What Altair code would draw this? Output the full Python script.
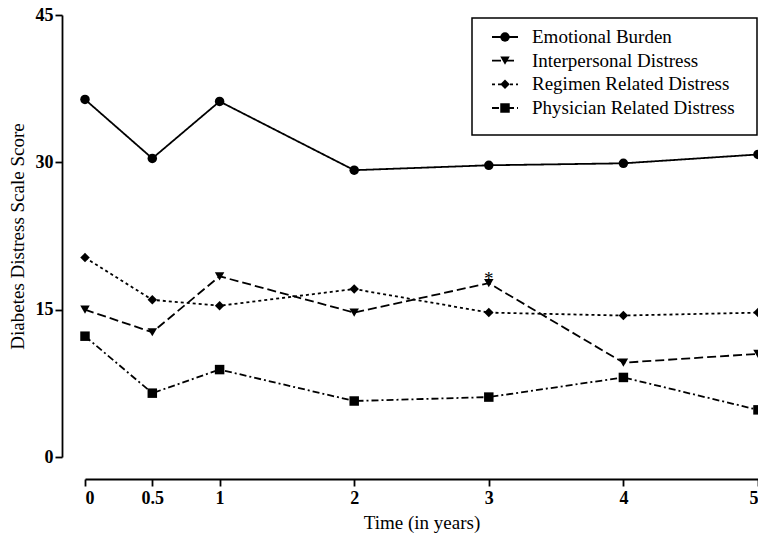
import altair as alt
import pandas as pd

times = [0, 0.5, 1, 2, 3, 4, 5]
series_names = ["Emotional Burden", "Interpersonal Distress",
                "Regimen Related Distress", "Physician Related Distress"]
emotional = [36.4, 30.4, 36.2, 29.2, 29.7, 29.9, 30.8]
interpersonal = [15.0, 12.7, 18.4, 14.7, 17.7, 9.6, 10.5]
regimen = [20.3, 16.0, 15.4, 17.1, 14.7, 14.4, 14.7]
physician = [12.3, 6.5, 8.9, 5.7, 6.1, 8.1, 4.8]
star_time = [3]
star_value = [17.7]

rows = []
for name, vals in zip(series_names, [emotional, interpersonal, regimen, physician]):
    for t, v in zip(times, vals):
        rows.append({"series": name, "time": t, "score": v})
df = pd.DataFrame(rows)
star_df = pd.DataFrame({"time": star_time, "score": star_value, "label": ["*"]})
leg_df = pd.DataFrame({"series": series_names})
box_df = pd.DataFrame({"k": [0]})

FONT = "Liberation Serif"
dashes = [[1, 0], [9, 4], [3, 3], [7, 3, 2, 3]]
shapes = ["circle", "triangle-down", "diamond", "square"]

dash_scale = alt.Scale(domain=series_names, range=dashes)
shape_scale = alt.Scale(domain=series_names, range=shapes)

x_enc = alt.X("time:Q", scale=alt.Scale(domain=[0, 5], nice=False, zero=False),
              axis=alt.Axis(values=times, format="~g", title="Time (in years)",
                            offset=22, labelPadding=3, titlePadding=6))
y_enc = alt.Y("score:Q", scale=alt.Scale(domain=[0, 45], nice=False),
              axis=alt.Axis(values=[0, 15, 30, 45], title="Diabetes Distress Scale Score",
                            offset=23, labelPadding=2, titlePadding=8))

lines = alt.Chart(df).mark_line(color="black", strokeWidth=1.8).encode(
    x=x_enc, y=y_enc,
    strokeDash=alt.StrokeDash("series:N", scale=dash_scale, legend=None),
    detail="series:N",
)

points = alt.Chart(df).mark_point(filled=True, color="black", opacity=1, size=90).encode(
    x="time:Q", y="score:Q",
    shape=alt.Shape("series:N", scale=shape_scale, legend=None),
)

star = alt.Chart(star_df).mark_text(font=FONT, fontSize=19, dy=-4, color="black").encode(
    x="time:Q", y="score:Q", text="label:N"
)

data_layer = alt.layer(lines, points, star)

# legend, rows placed by a point scale
leg_y = alt.Y("series:N", sort=series_names,
              scale=alt.Scale(type="point", domain=series_names, range=[22, 93], padding=0),
              axis=None)

box = alt.Chart(box_df).mark_rect(fill="white", stroke="black", strokeWidth=1.5).encode(
    x=alt.value(387), x2=alt.value(672), y=alt.value(3), y2=alt.value(120)
)
leg_rules = alt.Chart(leg_df).mark_rule(color="black", strokeWidth=1.8).encode(
    x=alt.value(407), x2=alt.value(433), y=leg_y,
    strokeDash=alt.StrokeDash("series:N", scale=dash_scale, legend=None),
)
leg_points = alt.Chart(leg_df).mark_point(filled=True, color="black", opacity=1, size=90).encode(
    x=alt.value(420), y=leg_y,
    shape=alt.Shape("series:N", scale=shape_scale, legend=None),
)
leg_text = alt.Chart(leg_df).mark_text(font=FONT, fontSize=19, align="left",
                                       baseline="middle", color="black").encode(
    x=alt.value(447), y=leg_y, text="series:N"
)
legend_layer = alt.layer(box, leg_rules, leg_points, leg_text)

chart = alt.layer(data_layer, legend_layer).resolve_scale(y="independent").properties(
    width=673, height=442,
    autosize=alt.AutoSizeParams(type="none"),
    padding={"left": 85, "top": 15, "right": 0, "bottom": 83},
).configure_view(stroke=None).configure_axis(
    grid=False, domainColor="black", domainWidth=1.8, tickColor="black",
    tickWidth=1.8, tickSize=7,
    labelFont=FONT, labelFontSize=18, labelFontWeight="bold", labelColor="black",
    titleFont=FONT, titleFontSize=19, titleFontWeight="normal", titleColor="black",
)

chart.save("out.html", embed_options={"renderer": "svg", "actions": False})
